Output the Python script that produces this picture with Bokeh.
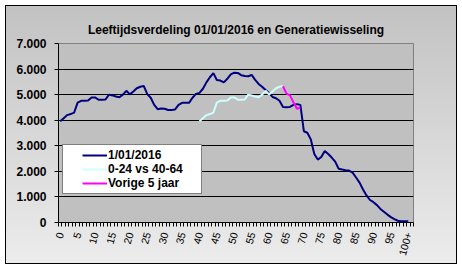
from bokeh.plotting import figure
from bokeh.models import FixedTicker, Range1d
from bokeh.embed import file_html
from bokeh.resources import INLINE

# ---- data ----
title_text = "Leeftijdsverdeling 01/01/2016 en Generatiewisseling"
ages = list(range(0, 101))
tick_ages = list(range(0, 101, 5))
tick_labels = {a: str(a) for a in tick_ages}
tick_labels[100] = "100+"
y_ticks = [0, 1000, 2000, 3000, 4000, 5000, 6000, 7000]
y_labels = ["0", "1.000", "2.000", "3.000", "4.000", "5.000", "6.000", "7.000"]

pop_2016 = [3960, 4080, 4200, 4240, 4300, 4690, 4760, 4765, 4770, 4890,
            4890, 4800, 4800, 4810, 5000, 4970, 4930, 4900, 5000, 5150,
            5010, 5120, 5250, 5310, 5340, 5020, 4880, 4600, 4430, 4460,
            4450, 4400, 4400, 4420, 4600, 4680, 4680, 4680, 4880, 5030,
            5070, 5230, 5480, 5680, 5840, 5570, 5550, 5480, 5620, 5790,
            5860, 5850, 5760, 5730, 5720, 5770, 5580, 5420, 5310, 5180,
            5060, 4910, 4860, 4760, 4520, 4505, 4520, 4600, 4630, 4600,
            3570, 3510, 3250, 2680, 2460, 2560, 2800, 2680, 2540, 2380,
            2100, 2070, 2045, 2030, 1950, 1760, 1560, 1290, 1060, 880,
            795, 680, 530, 420, 310, 210, 130, 70, 50, 50,
            50]

gen_ages = list(range(40, 65))
gen_values = [3960, 4080, 4200, 4240, 4300, 4690, 4760, 4765, 4770, 4890,
              4890, 4800, 4800, 4810, 5000, 4970, 4930, 4900, 5000, 5150,
              5010, 5120, 5250, 5310, 5340]

prev_ages = [64, 65, 66, 67, 68, 69]
prev_values = [5330, 5040, 4970, 4700, 4450, 4490]

series_names = ["1/01/2016", "0-24 vs 40-64", "Vorige 5 jaar"]
series_colors = ["#000080", "#CCFFFF", "#FF00FF"]

FONT = "Liberation Sans"

p = figure(width=462, height=269, output_backend="svg", toolbar_location=None,
           x_range=Range1d(-0.5, 101.5), y_range=Range1d(0, 7000),
           min_border_left=58, min_border_right=49, min_border_top=43,
           min_border_bottom=47,
           background_fill_color="#C0C0C0", border_fill_alpha=0,
           outline_line_color="#808080", outline_line_width=1,
           styles={"background": "linear-gradient(#c2c2c2, #ececec) 5px 5px / 452px 259px no-repeat, white",
                   "outline": "1px solid black", "outline-offset": "-6px"})

p.title.text = title_text
p.title.align = "center"
p.title.text_font = FONT
p.title.text_font_size = "12px"
p.title.text_font_style = "bold"
p.title.text_color = "black"
p.title.offset = -4
p.title.standoff = 14

p.line(ages, pop_2016, line_color=series_colors[0], line_width=2, legend_label=series_names[0])
p.line(gen_ages, gen_values, line_color=series_colors[1], line_width=2, legend_label=series_names[1])
p.line(prev_ages, prev_values, line_color=series_colors[2], line_width=2, legend_label=series_names[2])

# x axis
xa = p.xaxis[0]
xa.ticker = FixedTicker(ticks=tick_ages, minor_ticks=[i - 0.5 for i in range(0, 103)])
xa.major_label_overrides = tick_labels
xa.major_tick_out = 0
xa.major_tick_in = 0
xa.minor_tick_out = 4
xa.minor_tick_in = 0
xa.minor_tick_line_color = "black"
xa.axis_line_color = "black"
xa.major_label_orientation = 1.3
xa.major_label_text_font = FONT
xa.major_label_text_font_size = "10.5px"
xa.major_label_text_color = "black"
xa.major_label_standoff = 6

# y axis
ya = p.yaxis[0]
ya.ticker = FixedTicker(ticks=y_ticks, minor_ticks=[])
ya.major_label_overrides = dict(zip(y_ticks, y_labels))
ya.major_tick_out = 4
ya.major_tick_in = 0
ya.major_tick_line_color = "black"
ya.axis_line_color = "black"
ya.major_label_text_font = FONT
ya.major_label_text_font_size = "12px"
ya.major_label_text_font_style = "bold"
ya.major_label_text_color = "black"
ya.major_label_standoff = 8

p.xgrid.grid_line_color = None
p.ygrid.grid_line_color = "black"
p.ygrid.grid_line_width = 1
p.ygrid.ticker = FixedTicker(ticks=y_ticks)

lg = p.legend[0]
lg.location = (4, 28)
lg.border_line_color = "black"
lg.border_line_width = 1
lg.background_fill_color = "white"
lg.background_fill_alpha = 1
lg.label_text_font = FONT
lg.label_text_font_size = "12px"
lg.label_text_font_style = "bold"
lg.label_text_color = "black"
lg.glyph_width = 25
lg.glyph_height = 12
lg.label_height = 12
lg.label_standoff = 1
lg.label_width = 90
lg.spacing = -3
lg.padding = 3
lg.margin = 0
lg.title = " "
lg.title_location = "left"
lg.title_text_font_size = "12px"
lg.title_standoff = 2

open("out.html", "w").write(file_html(p, INLINE))
